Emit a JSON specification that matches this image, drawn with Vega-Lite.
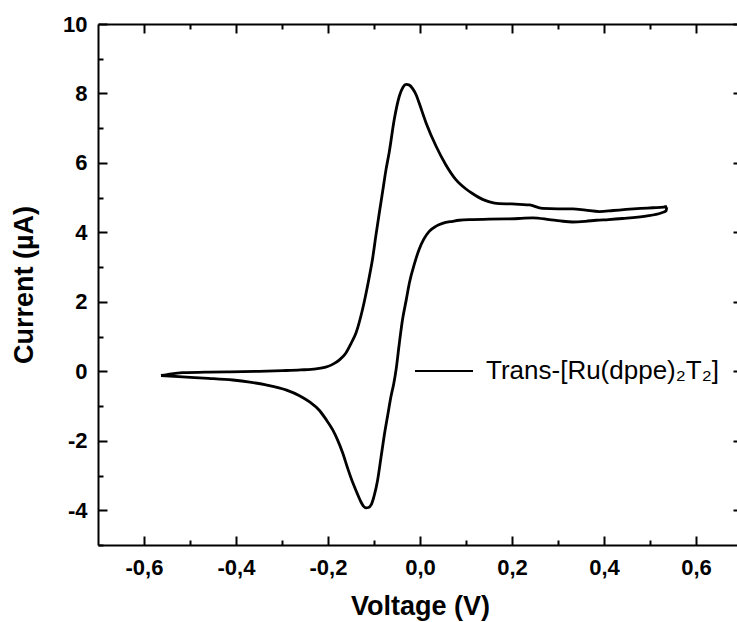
{
  "$schema": "https://vega.github.io/schema/vega-lite/v6.json",
  "width": 644,
  "height": 521,
  "autosize": {"type": "none"},
  "padding": {"left": 98, "top": 24, "right": 0, "bottom": 77},
  "background": "white",
  "config": {
    "view": {"stroke": null},
    "font": "Liberation Sans",
    "axis": {
      "domainColor": "black",
      "domainWidth": 2,
      "tickColor": "black",
      "tickWidth": 2,
      "grid": false,
      "labelFont": "Liberation Sans",
      "labelFontWeight": "bold",
      "labelFontSize": 22,
      "labelColor": "black",
      "titleFont": "Liberation Sans",
      "titleFontWeight": "bold",
      "titleFontSize": 27,
      "titleColor": "black"
    }
  },
  "data": {
    "values": [
      {"order": 1, "voltage": -0.563, "current": -0.12},
      {"order": 2, "voltage": -0.54, "current": -0.07},
      {"order": 3, "voltage": -0.516, "current": -0.04},
      {"order": 4, "voltage": -0.46, "current": -0.02},
      {"order": 5, "voltage": -0.414, "current": -0.015},
      {"order": 6, "voltage": -0.35, "current": 0.0},
      {"order": 7, "voltage": -0.299, "current": 0.02},
      {"order": 8, "voltage": -0.26, "current": 0.04},
      {"order": 9, "voltage": -0.226, "current": 0.07},
      {"order": 10, "voltage": -0.205, "current": 0.12},
      {"order": 11, "voltage": -0.19, "current": 0.2},
      {"order": 12, "voltage": -0.175, "current": 0.33},
      {"order": 13, "voltage": -0.161, "current": 0.53},
      {"order": 14, "voltage": -0.15, "current": 0.8},
      {"order": 15, "voltage": -0.139, "current": 1.11},
      {"order": 16, "voltage": -0.125, "current": 1.78},
      {"order": 17, "voltage": -0.11, "current": 2.74},
      {"order": 18, "voltage": -0.103, "current": 3.25},
      {"order": 19, "voltage": -0.096, "current": 3.9},
      {"order": 20, "voltage": -0.088, "current": 4.6},
      {"order": 21, "voltage": -0.081, "current": 5.2},
      {"order": 22, "voltage": -0.074, "current": 5.8},
      {"order": 23, "voltage": -0.067, "current": 6.3},
      {"order": 24, "voltage": -0.056, "current": 7.25},
      {"order": 25, "voltage": -0.045, "current": 7.92},
      {"order": 26, "voltage": -0.037, "current": 8.18},
      {"order": 27, "voltage": -0.03, "current": 8.26},
      {"order": 28, "voltage": -0.023, "current": 8.24},
      {"order": 29, "voltage": -0.016, "current": 8.14},
      {"order": 30, "voltage": -0.008, "current": 7.95},
      {"order": 31, "voltage": -0.002, "current": 7.73},
      {"order": 32, "voltage": 0.013, "current": 7.16},
      {"order": 33, "voltage": 0.035, "current": 6.48},
      {"order": 34, "voltage": 0.056, "current": 5.95},
      {"order": 35, "voltage": 0.078, "current": 5.52},
      {"order": 36, "voltage": 0.1, "current": 5.25},
      {"order": 37, "voltage": 0.114, "current": 5.12},
      {"order": 38, "voltage": 0.136, "current": 4.95},
      {"order": 39, "voltage": 0.151, "current": 4.88},
      {"order": 40, "voltage": 0.172, "current": 4.83},
      {"order": 41, "voltage": 0.2, "current": 4.82},
      {"order": 42, "voltage": 0.238, "current": 4.79},
      {"order": 43, "voltage": 0.266, "current": 4.69},
      {"order": 44, "voltage": 0.3, "current": 4.68},
      {"order": 45, "voltage": 0.332, "current": 4.68},
      {"order": 46, "voltage": 0.36, "current": 4.64},
      {"order": 47, "voltage": 0.39, "current": 4.6},
      {"order": 48, "voltage": 0.42, "current": 4.63},
      {"order": 49, "voltage": 0.448, "current": 4.66},
      {"order": 50, "voltage": 0.48, "current": 4.69},
      {"order": 51, "voltage": 0.506, "current": 4.71},
      {"order": 52, "voltage": 0.53, "current": 4.73},
      {"order": 53, "voltage": 0.537, "current": 4.75},
      {"order": 54, "voltage": 0.535, "current": 4.62},
      {"order": 55, "voltage": 0.524, "current": 4.56},
      {"order": 56, "voltage": 0.491, "current": 4.47},
      {"order": 57, "voltage": 0.44, "current": 4.4},
      {"order": 58, "voltage": 0.41, "current": 4.37},
      {"order": 59, "voltage": 0.383, "current": 4.35},
      {"order": 60, "voltage": 0.36, "current": 4.32},
      {"order": 61, "voltage": 0.332, "current": 4.3},
      {"order": 62, "voltage": 0.305, "current": 4.33},
      {"order": 63, "voltage": 0.281, "current": 4.37},
      {"order": 64, "voltage": 0.245, "current": 4.42},
      {"order": 65, "voltage": 0.215, "current": 4.4},
      {"order": 66, "voltage": 0.187, "current": 4.39},
      {"order": 67, "voltage": 0.15, "current": 4.38},
      {"order": 68, "voltage": 0.114, "current": 4.37},
      {"order": 69, "voltage": 0.085, "current": 4.35},
      {"order": 70, "voltage": 0.071, "current": 4.32},
      {"order": 71, "voltage": 0.049, "current": 4.26},
      {"order": 72, "voltage": 0.035, "current": 4.18},
      {"order": 73, "voltage": 0.02, "current": 4.03},
      {"order": 74, "voltage": 0.008, "current": 3.8},
      {"order": 75, "voltage": -0.002, "current": 3.51},
      {"order": 76, "voltage": -0.012, "current": 3.1},
      {"order": 77, "voltage": -0.023, "current": 2.55},
      {"order": 78, "voltage": -0.03, "current": 2.05},
      {"order": 79, "voltage": -0.038, "current": 1.49},
      {"order": 80, "voltage": -0.045, "current": 0.8},
      {"order": 81, "voltage": -0.052, "current": 0.05},
      {"order": 82, "voltage": -0.057, "current": -0.35},
      {"order": 83, "voltage": -0.063, "current": -0.72},
      {"order": 84, "voltage": -0.07, "current": -1.25},
      {"order": 85, "voltage": -0.078, "current": -1.87},
      {"order": 86, "voltage": -0.085, "current": -2.5},
      {"order": 87, "voltage": -0.092, "current": -3.12},
      {"order": 88, "voltage": -0.099, "current": -3.55},
      {"order": 89, "voltage": -0.106, "current": -3.84},
      {"order": 90, "voltage": -0.112, "current": -3.92},
      {"order": 91, "voltage": -0.117, "current": -3.93},
      {"order": 92, "voltage": -0.123, "current": -3.88},
      {"order": 93, "voltage": -0.128, "current": -3.77},
      {"order": 94, "voltage": -0.137, "current": -3.5},
      {"order": 95, "voltage": -0.146, "current": -3.21},
      {"order": 96, "voltage": -0.157, "current": -2.8},
      {"order": 97, "voltage": -0.168, "current": -2.35},
      {"order": 98, "voltage": -0.18, "current": -1.95},
      {"order": 99, "voltage": -0.19, "current": -1.68},
      {"order": 100, "voltage": -0.205, "current": -1.37},
      {"order": 101, "voltage": -0.219, "current": -1.12},
      {"order": 102, "voltage": -0.24, "current": -0.88},
      {"order": 103, "voltage": -0.262, "current": -0.7},
      {"order": 104, "voltage": -0.29, "current": -0.54},
      {"order": 105, "voltage": -0.335, "current": -0.39},
      {"order": 106, "voltage": -0.37, "current": -0.31},
      {"order": 107, "voltage": -0.407, "current": -0.25},
      {"order": 108, "voltage": -0.46, "current": -0.2},
      {"order": 109, "voltage": -0.516, "current": -0.16},
      {"order": 110, "voltage": -0.563, "current": -0.12}
    ]
  },
  "layer": [
    {
      "mark": {"type": "line", "strokeWidth": 2.8, "interpolate": "monotone"},
      "encoding": {
        "x": {
          "field": "voltage", "type": "quantitative",
          "scale": {"domain": [-0.7, 0.7], "nice": false, "zero": false},
          "axis": {
            "orient": "bottom",
            "title": "Voltage (V)",
            "values": [-0.6, -0.5, -0.4, -0.3, -0.2, -0.1, 0, 0.1, 0.2, 0.3, 0.4, 0.5, 0.6],
            "labelExpr": "abs(round(datum.value*10)) % 2 == 1 ? '' : replace(replace(format(datum.value, '.1f'), '.', ','), '−', '-')",
            "tickSize": {"condition": {"test": "abs(round(datum.value*10)) % 2 == 1", "value": -5}, "value": -9},
            "labelPadding": 21,
            "titlePadding": 15
          }
        },
        "y": {
          "field": "current", "type": "quantitative",
          "scale": {"domain": [-5, 10], "nice": false, "zero": false},
          "axis": {
            "orient": "left",
            "title": "Current (µA)",
            "values": [-5, -4, -3, -2, -1, 0, 1, 2, 3, 4, 5, 6, 7, 8, 9, 10],
            "labelExpr": "abs(datum.value) % 2 == 1 ? '' : '' + datum.value",
            "tickSize": {"condition": {"test": "abs(datum.value) % 2 == 1", "value": -5}, "value": -9},
            "labelPadding": 20,
            "titlePadding": 24
          }
        },
        "order": {"field": "order", "type": "quantitative"},
        "color": {
          "datum": "Trans-[Ru(dppe)₂T₂]",
          "type": "nominal",
          "scale": {"range": ["black"]},
          "legend": {
            "title": null,
            "orient": "none",
            "legendX": 316,
            "legendY": 317,
            "symbolType": "stroke",
            "symbolSize": 3364,
            "symbolStrokeWidth": 2,
            "labelFont": "Liberation Sans",
            "labelFontSize": 26,
            "labelColor": "black",
            "labelLimit": 400,
            "labelOffset": 12,
            "padding": 0
          }
        }
      }
    },
    {
      "mark": {"type": "line", "strokeWidth": 2.8, "interpolate": "monotone", "strokeOpacity": 0},
      "encoding": {
        "x": {
          "field": "voltage", "type": "quantitative",
          "axis": {
            "orient": "top",
            "title": null,
            "labels": false,
            "values": [-0.6, -0.5, -0.4, -0.3, -0.2, -0.1, 0, 0.1, 0.2, 0.3, 0.4, 0.5, 0.6],
            "tickSize": {"condition": {"test": "abs(round(datum.value*10)) % 2 == 1", "value": -5}, "value": -9}
          }
        },
        "y": {
          "field": "current", "type": "quantitative",
          "axis": {
            "orient": "right",
            "title": null,
            "labels": false,
            "values": [-5, -4, -3, -2, -1, 0, 1, 2, 3, 4, 5, 6, 7, 8, 9, 10],
            "tickSize": {"condition": {"test": "abs(datum.value) % 2 == 1", "value": -5}, "value": -9}
          }
        },
        "order": {"field": "order", "type": "quantitative"}
      }
    }
  ],
  "resolve": {"axis": {"x": "independent", "y": "independent"}}
}
